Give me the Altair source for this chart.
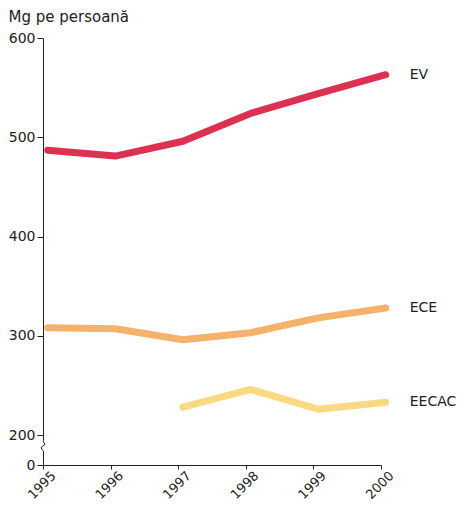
import altair as alt
import pandas as pd

# ---- data ----
YEARS = [1995, 1996, 1997, 1998, 1999, 2000]
EV = [487, 481, 496, 524, 544, 563]
ECE = [308, 307, 296, 303, 318, 328]
EECAC = [None, None, 228, 246, 226, 233]
SERIES = ["EV", "ECE", "EECAC"]
COLORS = ["#dc3151", "#f5b26a", "#f9d981"]
Y_TICKS = [0, 200, 300, 400, 500, 600]
Y_TITLE = "Mg pe persoană"

# axis-break glyph (in data units)
BREAK_Y = [160, 138, 116, 94]
BREAK_X = [1995.0, 1995.03, 1994.97, 1995.0]

rows = []
for name, vals in zip(SERIES, [EV, ECE, EECAC]):
    for yr, v in zip(YEARS, vals):
        if v is not None:
            rows.append({"series": name, "year": yr, "value": v})
df = pd.DataFrame(rows)

brk = pd.DataFrame({"xpos": BREAK_X, "value": BREAK_Y, "order": list(range(len(BREAK_Y)))})
gap = pd.DataFrame({"xpos": [1995.0], "value": [BREAK_Y[0] + 2], "value2": [BREAK_Y[-1] - 2]})

FONT = "DejaVu Sans"
INK = "#222"
H = 427

x_enc = alt.X(
    "xpos:Q",
    scale=alt.Scale(domain=[1995, 2000], nice=False, zero=False),
    axis=alt.Axis(
        values=YEARS, format="d", labelAngle=315, labelAlign="right",
        labelBaseline="top", labelFontSize=13, labelPadding=0, labelOffset=6,
        tickSize=4, grid=False, domainColor=INK, tickColor=INK, labelColor=INK,
        title=None, labelFont=FONT,
    ),
)
y_enc = alt.Y(
    "value:Q",
    scale=alt.Scale(domain=[0, 200, 600], range=[H, 397, 0], nice=False, zero=False),
    axis=alt.Axis(
        values=Y_TICKS, labelFontSize=14, labelPadding=2, tickSize=6,
        grid=False, domainColor=INK, tickColor=INK, labelColor=INK,
        title=Y_TITLE, titleAngle=0, titleAlign="left", titleBaseline="alphabetic",
        titleX=-35, titleY=-17, titleFontSize=15, titleFontWeight="normal",
        titleColor=INK, titleFont=FONT, labelFont=FONT,
    ),
)
color_enc = alt.Color(
    "series:N", scale=alt.Scale(domain=SERIES, range=COLORS), legend=None
)

base = alt.Chart(df).transform_calculate(xpos="datum.year + 0.07")

lines = base.mark_line(strokeWidth=7, strokeCap="round", strokeJoin="round").encode(
    x=x_enc, y=y_enc, color=color_enc, detail="series:N"
)

labels = base.transform_filter("datum.year == 2000").mark_text(
    align="left", baseline="middle", dx=24, fontSize=14, font=FONT, color=INK
).encode(x=x_enc, y=y_enc, text="series:N")

gap_rule = alt.Chart(gap).mark_rule(color="white", strokeWidth=3).encode(
    x=x_enc, y=y_enc, y2="value2:Q"
)
zig = alt.Chart(brk).mark_line(color=INK, strokeWidth=1).encode(
    x=x_enc, y=y_enc, order="order:Q"
)

chart = alt.layer(lines, labels, gap_rule, zig).properties(
    width=338,
    height=H,
    autosize=alt.AutoSizeParams(type="none"),
    padding={"left": 35, "top": 30, "right": 75, "bottom": 36},
).configure(font=FONT).configure_view(stroke=None)

chart.save("out.html", embed_options={"renderer": "svg", "actions": False})
